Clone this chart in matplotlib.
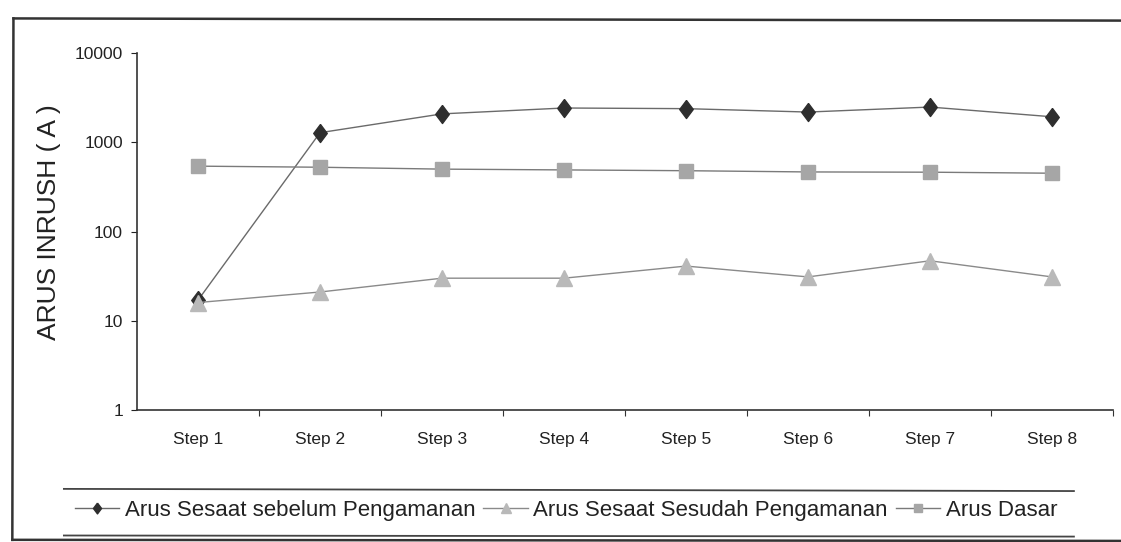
import matplotlib
matplotlib.use("Agg")
import matplotlib.pyplot as plt
from matplotlib.lines import Line2D

plt.rcParams['font.family'] = ['Liberation Sans', 'DejaVu Sans']

# data (log scale)
steps = ["Step 1", "Step 2", "Step 3", "Step 4", "Step 5", "Step 6", "Step 7", "Step 8"]
sebelum = [17, 1280, 2080, 2420, 2380, 2180, 2480, 1930]
sesudah = [16, 21, 30, 30, 41, 31, 47, 31]
dasar = [540, 525, 500, 490, 480, 465, 462, 450]

fig = plt.figure(figsize=(11.21, 5.42), dpi=100)
ax = fig.add_axes([0.1222, 0.2435, 0.8707, 0.6587])

x = list(range(len(steps)))
diamond = [(0, 1), (0.75, 0), (0, -1), (-0.75, 0), (0, 1)]

l1, = ax.plot(x, sebelum, color="#6a6a6a", lw=1.0, marker=diamond, ms=13,
              mfc="#2e2e2e", mec="#2e2e2e")
l2, = ax.plot(x, sesudah, color="#8a8a8a", lw=1.0, marker="^", ms=11,
              mfc="#b9b9b9", mec="#b9b9b9")
l3, = ax.plot(x, dasar, color="#7a7a7a", lw=1.0, marker="s", ms=9.5,
              mfc="#a6a6a6", mec="#a6a6a6")

ax.set_yscale("log")
ax.set_ylim(1, 10000)
ax.set_yticks([1, 10, 100, 1000, 10000])
ax.set_yticklabels(["1", "10", "100", "1000", "10000"])
ax.minorticks_off()
ax.set_xlim(-0.5, len(steps) - 0.5)

# category labels centred, tick marks on the boundaries
ax.set_xticks([i + 0.5 for i in range(len(steps))])
ax.set_xticklabels([])
ax.set_xticks(x, minor=True)
ax.set_xticklabels(steps, minor=True, fontsize=12.5, color="#222222")
ax.tick_params(axis="x", which="minor", length=0, pad=16)
ax.tick_params(axis="x", which="major", length=4, direction="out", color="#333333")
ax.tick_params(axis="y", length=4, direction="out", labelsize=12.5, colors="#222222", pad=6)

for s in ["top", "right"]:
    ax.spines[s].set_visible(False)
for s in ["left", "bottom"]:
    ax.spines[s].set_color("#333333")
    ax.spines[s].set_linewidth(1.2)

fig.text(0.044, 0.59, "ARUS INRUSH ( A )", rotation=90, ha="center", va="center",
         fontsize=19, color="#222222")

leg = fig.legend([l1, l2, l3],
                 ["Arus Sesaat sebelum Pengamanan", "Arus Sesaat Sesudah Pengamanan", "Arus Dasar"],
                 loc="center", bbox_to_anchor=(0.505, 0.058), ncol=3, frameon=False,
                 fontsize=16, handlelength=2.0, handletextpad=0.25, columnspacing=0.35,
                 markerscale=0.6)
for t in leg.get_texts():
    t.set_color("#222222")

# legend rules and outer frame of the scan
fig.add_artist(Line2D([0.057, 0.958], [0.098, 0.094], transform=fig.transFigure,
                      color="#444444", lw=1.3))
fig.add_artist(Line2D([0.057, 0.958], [0.012, 0.010], transform=fig.transFigure,
                      color="#444444", lw=1.3))
fig.add_artist(Line2D([0.012, 1.0], [0.966, 0.962], transform=fig.transFigure,
                      color="#333333", lw=1.8))
fig.add_artist(Line2D([0.012, 0.011], [0.966, 0.004], transform=fig.transFigure,
                      color="#333333", lw=1.8))
fig.add_artist(Line2D([0.011, 1.0], [0.004, 0.002], transform=fig.transFigure,
                      color="#333333", lw=1.8))

fig.savefig("out.png", dpi=100)
